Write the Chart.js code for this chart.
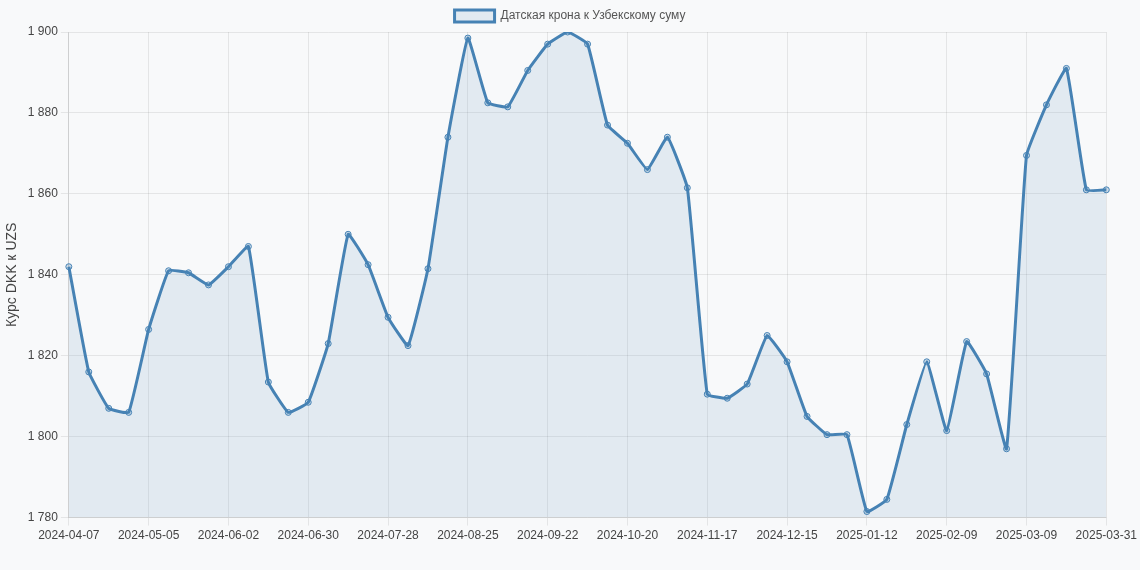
<!DOCTYPE html>
<html>
<head>
<meta charset="utf-8">
<script src="https://cdn.jsdelivr.net/npm/chart.js@4"></script>
<style>
  html, body { margin: 0; padding: 0; background: #f8f9fa; }
  #wrap { width: 1140px; height: 570px; }
</style>
</head>
<body>
<div id="wrap"><canvas id="c"></canvas></div>
<script>
const dates = [
  '2024-04-07','2024-04-14','2024-04-21','2024-04-28','2024-05-05','2024-05-12','2024-05-19','2024-05-26',
  '2024-06-02','2024-06-09','2024-06-16','2024-06-23','2024-06-30','2024-07-07','2024-07-14','2024-07-21',
  '2024-07-28','2024-08-04','2024-08-11','2024-08-18','2024-08-25','2024-09-01','2024-09-08','2024-09-15',
  '2024-09-22','2024-09-29','2024-10-06','2024-10-13','2024-10-20','2024-10-27','2024-11-03','2024-11-10',
  '2024-11-17','2024-11-24','2024-12-01','2024-12-08','2024-12-15','2024-12-22','2024-12-29','2025-01-05',
  '2025-01-12','2025-01-19','2025-01-26','2025-02-02','2025-02-09','2025-02-16','2025-02-23','2025-03-02',
  '2025-03-09','2025-03-16','2025-03-23','2025-03-30','2025-03-31'
];
const rates = [
  1842, 1816, 1807, 1806, 1826.5, 1841, 1840.5, 1837.5,
  1842, 1847, 1813.5, 1806, 1808.5, 1823, 1850, 1842.5,
  1829.5, 1822.5, 1841.5, 1874, 1898.5, 1882.5, 1881.5, 1890.5,
  1897, 1900, 1897, 1877, 1872.5, 1866, 1874, 1861.5,
  1810.5, 1809.5, 1813, 1825, 1818.5, 1805, 1800.5, 1800.5,
  1781.5, 1784.5, 1803, 1818.5, 1801.5, 1823.5, 1815.5, 1797,
  1869.5, 1882, 1891, 1861, 1861
];
const seriesName = 'Датская крона к Узбекскому суму';
const yTitle = 'Курс DKK к UZS';

const fmt = v => v.toLocaleString('ru-RU').replace(/\u00a0|\u202f/g, ' ');

new Chart(document.getElementById('c'), {
  type: 'line',
  data: {
    labels: dates,
    datasets: [{
      label: seriesName,
      data: rates,
      borderColor: '#4682b4',
      backgroundColor: 'rgba(70,130,180,0.12)',
      borderWidth: 3,
      fill: true,
      tension: 0.1,
      pointRadius: 3,
      pointBackgroundColor: 'rgba(70,130,180,0.25)',
      pointBorderColor: '#4682b4',
      pointBorderWidth: 1
    }]
  },
  options: {
    responsive: true, maintainAspectRatio: false, animation: false,
    layout: { padding: { bottom: 24 } },
    plugins: {
      legend: { labels: { color: '#555', font: { size: 12 } } }
    },
    scales: {
      x: {
        grid: { color: ctx => ctx.index % 4 === 0 ? 'rgba(0,0,0,0.08)' : 'rgba(0,0,0,0)' },
        ticks: {
          color: '#444', maxRotation: 0, autoSkip: false, font: { weight: '500' },
          callback: (v, i) => i % 4 === 0 ? dates[i] : ''
        }
      },
      y: {
        min: 1780, max: 1900,
        grid: { color: 'rgba(0,0,0,0.08)' },
        ticks: { color: '#444', stepSize: 20, font: { weight: '500' }, callback: v => fmt(v) },
        title: { display: true, text: yTitle, color: '#444', font: { size: 14 } }
      }
    }
  }
});
</script>
</body>
</html>
